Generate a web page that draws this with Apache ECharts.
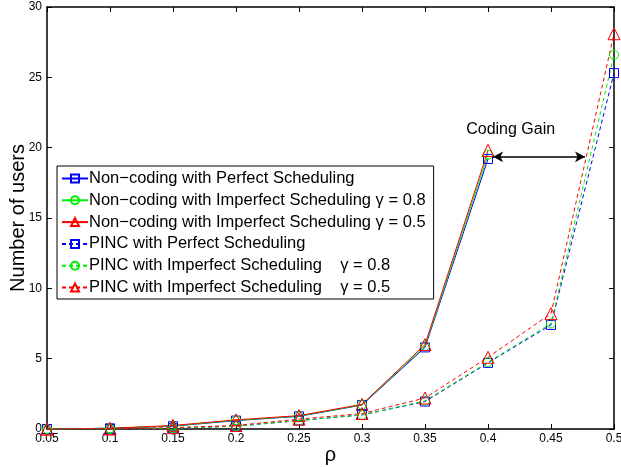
<!DOCTYPE html>
<html lang="en">
<head>
    <meta charset="UTF-8">
    <title>Number of users vs rho</title>
    <style>
        * { padding: 0; margin: 0; }
        body { background: #fff; }
    </style>
</head>
<body>
<div id="chart" style="width: 621px;height:467px;"></div>
<script src="https://cdn.jsdelivr.net/npm/echarts@6/dist/echarts.min.js"></script>
<script>
    // data
    var rho = [0.05, 0.1, 0.15, 0.2, 0.25, 0.3, 0.35, 0.4, 0.45, 0.5];
    var ncPerfect = [0, 0.05, 0.2, 0.6, 0.9, 1.7, 5.8, 19.2];
    var ncImp08 = [0, 0.05, 0.22, 0.62, 0.92, 1.72, 5.9, 19.5];
    var ncImp05 = [0, 0.05, 0.25, 0.65, 0.95, 1.75, 6.0, 19.8];
    var pincPerfect = [0, 0, 0.05, 0.2, 0.6, 1.0, 1.95, 4.7, 7.4, 25.3];
    var pincImp08 = [0, 0, 0.05, 0.2, 0.6, 1.0, 2.0, 4.75, 7.5, 26.6];
    var pincImp05 = [0, 0, 0.1, 0.25, 0.7, 1.1, 2.2, 5.1, 8.2, 28.1];
    var gainArrow = [[0.404, 19.35], [0.477, 19.35]];
    var gainLabelAt = [0.418, 21.3];

    var names = [
        'Non\u2212coding with Perfect Scheduling',
        'Non\u2212coding with Imperfect Scheduling \u03b3 = 0.8',
        'Non\u2212coding with Imperfect Scheduling \u03b3 = 0.5',
        'PINC with Perfect Scheduling',
        'PINC with Imperfect Scheduling    \u03b3 = 0.8',
        'PINC with Imperfect Scheduling    \u03b3 = 0.5'
    ];

    function pairs(ys) {
        return ys.map(function (y, i) { return [rho[i], y]; });
    }

    function mkSeries(name, ys, color, symbol, dashed) {
        return {
            name: name,
            type: 'line',
            data: pairs(ys),
            symbol: symbol,
            symbolSize: symbol === 'triangle' ? 12 : 9,
            showAllSymbol: true,
            animation: false,
            lineStyle: {color: color, width: 1, type: dashed ? [4, 3] : 'solid'},
            itemStyle: {color: 'rgba(255,255,255,0)', borderColor: color, borderWidth: 1}
        };
    }

    var font = 'Liberation Sans, Arial, Helvetica, sans-serif';
    var chart = echarts.init(document.getElementById('chart'), null, {renderer: 'canvas'});

    var series = [
        mkSeries(names[0], ncPerfect, '#0000ff', 'rect', false),
        mkSeries(names[1], ncImp08, '#00ee00', 'circle', false),
        mkSeries(names[2], ncImp05, '#ff0000', 'triangle', false),
        mkSeries(names[3], pincPerfect, '#0000ff', 'rect', true),
        mkSeries(names[4], pincImp08, '#00ee00', 'circle', true),
        mkSeries(names[5], pincImp05, '#ff0000', 'triangle', true)
    ];
    series.push({
        type: 'line',
        data: [],
        silent: true,
        animation: false,
        markLine: {
            silent: true,
            symbol: ['arrow', 'arrow'],
            symbolSize: [8, 10],
            label: {show: false},
            lineStyle: {color: '#000', width: 1.5, type: 'solid'},
            data: [[{coord: gainArrow[0]}, {coord: gainArrow[1]}]]
        }
    });

    var axisCommon = {
        type: 'value',
        axisLine: {show: true, onZero: false, lineStyle: {color: '#000', width: 1.5}},
        axisTick: {show: true, inside: true, length: 5, lineStyle: {color: '#000'}},
        splitLine: {show: false}
    };

    var option = {
        backgroundColor: '#fff',
        animation: false,
        grid: {left: 47, right: 7, top: 7, bottom: 38, outerBoundsMode: 'none', containLabel: false},
        legend: {
            orient: 'vertical',
            left: 57,
            top: 166,
            data: names,
            backgroundColor: '#fff',
            borderColor: '#000',
            borderWidth: 1,
            borderRadius: 0,
            padding: [4, 8, 3, 4],
            itemGap: 4.8,
            itemWidth: 26,
            itemHeight: 10,
            selectedMode: false,
            textStyle: {fontFamily: font, fontSize: 16.5, color: '#000', padding: [0, 0, 0, -4]}
        },
        xAxis: [
            Object.assign({}, axisCommon, {
                min: 0.05, max: 0.5, interval: 0.05,
                name: '\u03c1',
                nameLocation: 'middle',
                nameGap: 16,
                nameMoveOverlap: false,
                nameTextStyle: {fontFamily: font, fontSize: 20, color: '#000'},
                axisLabel: {
                    fontFamily: font, fontSize: 12, color: '#000', margin: 4,
                    formatter: function (v) { return String(Math.round(v * 100) / 100); }
                }
            }),
            Object.assign({}, axisCommon, {
                position: 'top', min: 0.05, max: 0.5, interval: 0.05,
                axisLabel: {show: false}
            })
        ],
        yAxis: [
            Object.assign({}, axisCommon, {
                min: 0, max: 30, interval: 5,
                name: 'Number of users',
                nameLocation: 'middle',
                nameGap: 19,
                nameMoveOverlap: false,
                nameTextStyle: {fontFamily: font, fontSize: 20, color: '#000'},
                axisLabel: {fontFamily: font, fontSize: 12, color: '#000', margin: 5}
            }),
            Object.assign({}, axisCommon, {
                position: 'right', min: 0, max: 30, interval: 5,
                axisLabel: {show: false}
            })
        ],
        series: series
    };
    chart.setOption(option);

    var p = chart.convertToPixel({xAxisIndex: 0, yAxisIndex: 0}, gainLabelAt);
    chart.setOption({
        graphic: [{
            type: 'text',
            x: p[0],
            y: p[1],
            style: {
                text: 'Coding Gain',
                fontFamily: font,
                fontSize: 16,
                fill: '#000',
                align: 'center',
                verticalAlign: 'middle'
            }
        }]
    });
</script>
</body>
</html>
